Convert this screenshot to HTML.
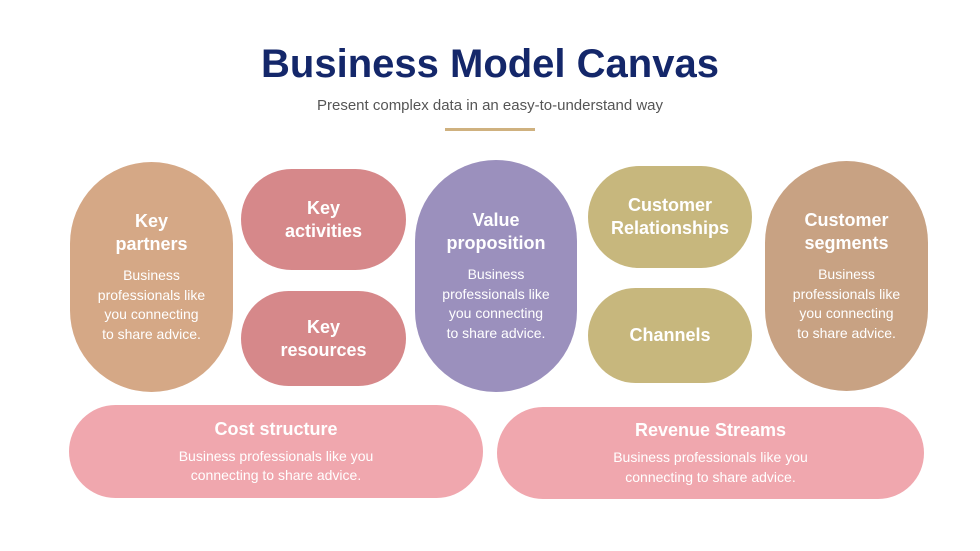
<!DOCTYPE html>
<html><head><style>
body{margin:0;width:980px;height:551px;background:#fff;font-family:"Liberation Sans",sans-serif;position:relative;overflow:hidden}
.s{position:absolute;color:#fff;text-align:center;box-sizing:border-box;display:flex;flex-direction:column;justify-content:center;align-items:center}
.h{font-weight:bold;font-size:18px;line-height:23px}
.p{font-size:14px;line-height:19.5px;margin-top:10px}
</style></head><body>
<div style="position:absolute;left:0;width:980px;top:42px;text-align:center;font-weight:bold;font-size:40px;color:#14276a">Business Model Canvas</div>
<div style="position:absolute;left:0;width:980px;top:97px;text-align:center;font-size:15px;color:#555">Present complex data in an easy-to-understand way</div>
<div style="position:absolute;left:445px;top:128px;width:90px;height:3px;background:#cfb17f"></div>

<div class="s" style="left:70px;top:162px;width:163px;height:230px;border-radius:82px;background:#d5a886"><div class="h">Key<br>partners</div><div class="p">Business<br>professionals like<br>you connecting<br>to share advice.</div></div>
<div class="s" style="left:241px;top:169px;width:165px;height:101px;border-radius:51px;background:#d6888a"><div class="h">Key<br>activities</div></div>
<div class="s" style="left:241px;top:291px;width:165px;height:95px;border-radius:48px;background:#d6888a"><div class="h">Key<br>resources</div></div>
<div class="s" style="left:415px;top:160px;width:162px;height:232px;border-radius:81px;background:#9b90bd"><div class="h">Value<br>proposition</div><div class="p">Business<br>professionals like<br>you connecting<br>to share advice.</div></div>
<div class="s" style="left:588px;top:166px;width:164px;height:102px;border-radius:51px;background:#c7b77d"><div class="h">Customer<br>Relationships</div></div>
<div class="s" style="left:588px;top:288px;width:164px;height:95px;border-radius:48px;background:#c7b77d"><div class="h">Channels</div></div>
<div class="s" style="left:765px;top:161px;width:163px;height:230px;border-radius:82px;background:#c8a283"><div class="h">Customer<br>segments</div><div class="p">Business<br>professionals like<br>you connecting<br>to share advice.</div></div>

<div class="s" style="left:69px;top:405px;width:414px;height:93px;border-radius:47px;background:#f0a7ae"><div class="h">Cost structure</div><div class="p" style="margin-top:6px">Business professionals like you<br>connecting to share advice.</div></div>
<div class="s" style="left:497px;top:407px;width:427px;height:92px;border-radius:46px;background:#f0a7ae"><div class="h">Revenue Streams</div><div class="p" style="margin-top:6px">Business professionals like you<br>connecting to share advice.</div></div>
</body></html>
